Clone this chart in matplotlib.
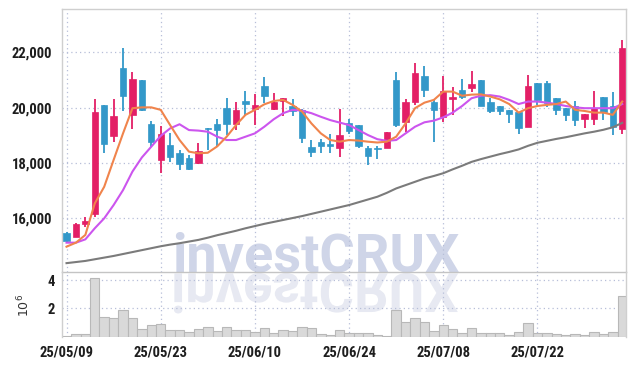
import matplotlib
matplotlib.use('Agg')
import matplotlib.pyplot as plt
from matplotlib.textpath import TextPath
from matplotlib.patches import PathPatch
from matplotlib.font_manager import FontProperties
from matplotlib.transforms import Affine2D, IdentityTransform
import numpy as np

# ---------------- data ----------------
dates = ["25/05/09", "25/05/12", "25/05/13", "25/05/14", "25/05/15", "25/05/16",
         "25/05/19", "25/05/20", "25/05/21", "25/05/22", "25/05/23",
         "25/05/26", "25/05/27", "25/05/28", "25/05/29", "25/05/30",
         "25/06/02", "25/06/04", "25/06/05", "25/06/09", "25/06/10",
         "25/06/11", "25/06/12", "25/06/13", "25/06/16", "25/06/17",
         "25/06/18", "25/06/19", "25/06/20", "25/06/23", "25/06/24",
         "25/06/25", "25/06/26", "25/06/27", "25/06/30", "25/07/01",
         "25/07/02", "25/07/03", "25/07/04", "25/07/07", "25/07/08",
         "25/07/09", "25/07/10", "25/07/11", "25/07/14", "25/07/15",
         "25/07/16", "25/07/17", "25/07/18", "25/07/21", "25/07/22",
         "25/07/23", "25/07/24", "25/07/25", "25/07/28", "25/07/29",
         "25/07/30", "25/07/31", "25/08/01", "25/08/04"]

opens = [15460, 15340, 15780, 16140, 20080, 18990, 21420, 19740, 20990, 19400,
         18120, 18640, 18370, 18170, 17990, 19260, 19400, 19980, 19410, 20240,
         19940, 20780, 19960, 20230, 20060, 19920, 18580, 18760, 18690, 18530,
         19430, 19360, 18530, 18550, 18530, 21000, 19490, 20220, 21150, 20200,
         19670, 20320, 20640, 20720, 21000, 20200, 20060, 19920, 19860, 19310,
         20880, 20880, 20340, 20000, 20060, 19580, 19590, 20370, 20060, 19220]
highs = [15490, 15840, 16060, 20300, 20080, 20300, 22150, 21280, 20990, 19530,
         19350, 19070, 18470, 18290, 18710, 19260, 19590, 20340, 20220, 20610,
         20480, 21100, 20540, 20340, 20300, 19940, 18830, 18860, 19050, 19940,
         19580, 19360, 18630, 18630, 19110, 21300, 20300, 21600, 21510, 20300,
         21150, 20740, 21020, 21340, 21000, 20340, 20060, 19920, 19860, 21180,
         20900, 20960, 20340, 20000, 20240, 19770, 20610, 20370, 20550, 22450]
lows = [15130, 15310, 15700, 16040, 18350, 18770, 19890, 19220, 19880, 18590,
        17630, 18050, 17750, 17750, 17960, 18470, 18630, 19010, 19190, 19740,
        19370, 20160, 19920, 19700, 19700, 18710, 18230, 18350, 18370, 18230,
        19050, 18550, 17930, 18130, 18530, 19310, 19130, 20100, 20400, 18770,
        19490, 19740, 20300, 20580, 20070, 19820, 19740, 19430, 19040, 19310,
        20100, 20010, 19740, 19530, 19340, 19280, 19370, 19550, 19000, 19040]
closes = [15190, 15790, 15920, 19830, 18690, 19690, 20420, 21020, 19920, 18770,
          19040, 18230, 17960, 17780, 18450, 19220, 19190, 19410, 19920, 20140,
          20080, 20430, 20200, 20340, 19890, 18920, 18410, 18630, 18630, 19010,
          19170, 18630, 18270, 18510, 19110, 19370, 20200, 21250, 20640, 19920,
          20610, 20390, 20400, 20860, 20070, 19880, 19890, 19770, 19280, 20780,
          20280, 20180, 19920, 19740, 19550, 19770, 19980, 19860, 19310, 22150]

ma_short = [14975, 15120, 15400, 16540, 17140, 18110, 19070, 19980, 20010, 20010,
            19920, 19370, 18830, 18410, 18350, 18370, 18600, 18950, 19370, 19740,
            19920, 20120, 20240, 20280, 20100, 19860, 19430, 19070, 18830, 18770,
            18830, 18810, 18770, 18740, 18770, 18950, 19430, 19980, 20180, 20280,
            20580, 20580, 20430, 20470, 20480, 20400, 20300, 20130, 19820, 19980,
            20060, 20100, 20130, 20220, 19920, 19880, 19820, 19820, 19740, 20220]
ma_mid = [15120, 15120, 15240, 15640, 16000, 16480, 17020, 17690, 18200, 18590,
          18980, 19250, 19400, 19190, 19170, 19130, 18950, 18830, 18830, 18950,
          19070, 19310, 19580, 19800, 19920, 19890, 19800, 19670, 19550, 19460,
          19370, 19190, 19010, 18860, 18800, 18830, 19070, 19310, 19470, 19530,
          19650, 19820, 20060, 20340, 20430, 20450, 20400, 20280, 20130, 20220,
          20220, 20180, 20130, 20060, 20010, 19980, 19980, 19980, 19980, 20130]
ma_long = [14380, 14420, 14460, 14520, 14580, 14640, 14710, 14780, 14850, 14920,
           14990, 15050, 15100, 15160, 15220, 15300, 15390, 15470, 15550, 15640,
           15720, 15800, 15870, 15940, 16010, 16080, 16160, 16240, 16320, 16400,
           16480, 16580, 16680, 16780, 16920, 17080, 17200, 17320, 17440, 17530,
           17630, 17770, 17900, 18040, 18140, 18230, 18320, 18400, 18490, 18620,
           18730, 18800, 18870, 18930, 19000, 19070, 19130, 19200, 19290, 19450]

volumes = [0.05, 0.16, 0.16, 4.12, 1.41, 1.29, 1.88, 1.29, 0.52, 0.80,
           0.87, 0.45, 0.45, 0.31, 0.52, 0.66, 0.40, 0.66, 0.45, 0.45,
           0.31, 0.59, 0.24, 0.45, 0.40, 0.66, 0.59, 0.19, 0.14, 0.45,
           0.24, 0.24, 0.24, 0.14, 0.07, 1.88, 1.06, 1.29, 1.04, 0.40,
           0.80, 0.54, 0.26, 0.59, 0.26, 0.26, 0.26, 0.12, 0.33, 0.94,
           0.26, 0.26, 0.21, 0.12, 0.19, 0.12, 0.33, 0.21, 0.33, 2.87]

price_ticks = [16000, 18000, 20000, 22000]
volume_ticks = [2, 4]

# ---------------- style ----------------
UP = '#e31f66'
DOWN = '#3398c9'
GRID = '#b7bed8'
SPINE = '#cfcfcf'
TICK_FP = FontProperties(family=['Roboto Condensed', 'Barlow Semi Condensed',
                                 'Archivo Narrow', 'DejaVu Sans'],
                         weight='bold', size=10.5)

W, H = 635, 366
fig = plt.figure(figsize=(W / 100, H / 100), dpi=100)
left, right = 62, 626
ax = fig.add_axes([left / W, 1 - 272 / H, (right - left) / W, (272 - 9) / H])
axv = fig.add_axes([left / W, 1 - 336.7 / H, (right - left) / W, (336.7 - 272) / H], sharex=ax)
for a in (ax, axv):
    a.set_facecolor('none')
    a.set_zorder(1)
    for s in a.spines.values():
        s.set_color(SPINE)
        s.set_linewidth(1.0)
    a.grid(True, color=GRID, linestyle=(0, (1, 2.5)), linewidth=0.9)
    a.set_axisbelow(True)
    a.tick_params(length=0, colors='#1e1e1e')

x = np.arange(len(dates))
o = np.array(opens); c = np.array(closes)
h = np.array(highs); l = np.array(lows)
up = c >= o
cols = np.where(up, UP, DOWN)

ax.vlines(x, l, h, colors=cols, linewidth=1.3, zorder=2)
body = np.maximum(np.abs(c - o), 40)
ax.bar(x, body, bottom=np.minimum(o, c), width=0.68, color=cols,
       edgecolor=cols, linewidth=0.5, zorder=3)

ax.plot(x, ma_long, color='#7b7b7b', linewidth=1.5, zorder=4)
ax.plot(x, ma_mid, color='#cc55ee', linewidth=1.5, zorder=4)
ax.plot(x, ma_short, color='#f0844c', linewidth=1.5, zorder=5)

ax.set_xlim(-0.48, 59.4)
ax.set_ylim(14060, 23565)
ax.set_yticks(price_ticks)
ax.set_yticklabels([f"{v:,}" for v in price_ticks], fontproperties=TICK_FP)
ax.tick_params(axis='y', pad=7)
ax.tick_params(axis='x', labelbottom=False)
ax.spines['bottom'].set_color('#c4c4c4')

axv.bar(x, volumes, width=1.0, color='#d9d9d9', edgecolor='#b8b8b8',
        linewidth=0.8, zorder=2)
axv.set_ylim(0, 4.57)
axv.set_yticks(volume_ticks)
axv.set_yticklabels([str(v) for v in volume_ticks], fontproperties=TICK_FP)
axv.tick_params(axis='y', pad=5)
axv.set_xticks(x[::10])
axv.set_xticklabels(dates[::10], fontproperties=TICK_FP)
axv.tick_params(axis='x', pad=6)
axv.spines['top'].set_visible(False)
axv.spines['bottom'].set_visible(False)
plt.rcParams['mathtext.fontset'] = 'dejavuserif'
axv.set_ylabel(r'$10^{6}$', fontsize=9, color='#333333')
axv.yaxis.set_label_coords(-0.053, 0.48)

# watermark with reflection
wm_fp = FontProperties(family=['Roboto', 'DejaVu Sans'], weight='bold')
wm_size_pt = 39
fig.text(316 / W, 1 - 271.7 / H, 'investCRUX', ha='center', va='baseline',
         fontproperties=wm_fp, fontsize=wm_size_pt, color='#cfd5e8', zorder=0.5)
tp = TextPath((0, 0), 'investCRUX', size=wm_size_pt * 100 / 72, prop=wm_fp)
ext = tp.get_extents()
tr = Affine2D().translate(-(ext.x0 + ext.x1) / 2, 0).scale(1, -1).translate(316, H - 273.5)
patch = PathPatch(tr.transform_path(tp), facecolor='#e7e9f2', edgecolor='none',
                  transform=IdentityTransform(), zorder=0.4)
fig.add_artist(patch)

fig.savefig('out.png', dpi=100, facecolor='white')
